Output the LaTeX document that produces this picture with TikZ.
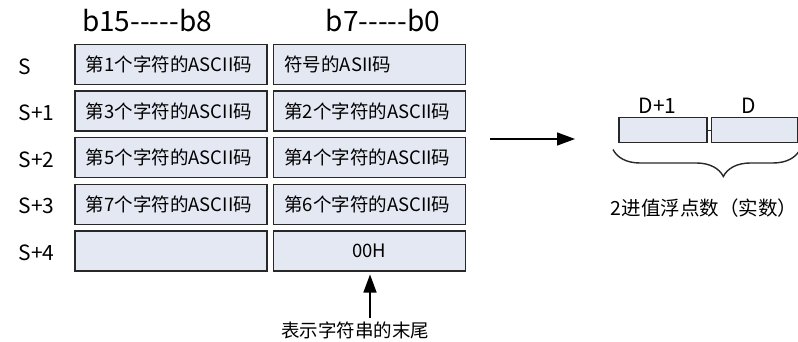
\documentclass[tikz,border=0pt]{standalone}
\usepackage{fontspec}
\setmainfont{Noto Sans CJK SC}
\usetikzlibrary{positioning,arrows.meta,decorations.pathreplacing}
\definecolor{cellfill}{RGB}{228,232,242}
\definecolor{celledge}{RGB}{40,40,40}

\begin{document}
\begin{tikzpicture}[
    x=1pt, y=-1pt,
    node distance=5pt,
    cell/.style={rectangle, draw=celledge, line width=1.5pt, fill=cellfill, minimum width=192pt, minimum height=40pt, inner xsep=11pt, text width=170pt, align=left, font=\fontsize{18.5}{20}\selectfont},
    rowlab/.style={anchor=west, font=\fontsize{21}{24}\selectfont},
    bitlab/.style={font=\fontsize{28}{32}\selectfont},
    dcell/.style={rectangle, draw=celledge, line width=1.5pt, fill=cellfill, minimum height=25pt},
    note/.style={font=\fontsize{18.5}{22}\selectfont},
    arrow/.style={line width=1.5pt, -{Triangle[length=18pt,width=13pt]}}
]
    \useasboundingbox (0,0) rectangle (798,342);

    % bit headers
    \node[bitlab] (hihead) at (147,21) {b15-{}-{}-{}-{}-b8};
    \node[bitlab] (lohead) at (383,21) {b7-{}-{}-{}-{}-b0};

    % word cells S .. S+4
    \node[cell, anchor=north west] (hi0) at (74,44) {第1个字符的ASCII码};
    \node[cell, right=of hi0] (lo0) {符号的ASII码};
    \node[cell, below=of hi0] (hi1) {第3个字符的ASCII码};
    \node[cell, right=of hi1] (lo1) {第2个字符的ASCII码};
    \node[cell, below=of hi1] (hi2) {第5个字符的ASCII码};
    \node[cell, right=of hi2] (lo2) {第4个字符的ASCII码};
    \node[cell, below=of hi2] (hi3) {第7个字符的ASCII码};
    \node[cell, right=of hi3] (lo3) {第6个字符的ASCII码};
    \node[cell, below=of hi3] (hi4) {};
    \node[cell, right=of hi4, align=center] (lo4) {00H};

    % row labels
    \node[rowlab] (s0) at ([xshift=-59pt,yshift=-2pt]hi0.west) {S};
    \node[rowlab] (s1) at ([xshift=-59pt,yshift=-2pt]hi1.west) {S+1};
    \node[rowlab] (s2) at ([xshift=-59pt,yshift=-2pt]hi2.west) {S+2};
    \node[rowlab] (s3) at ([xshift=-59pt,yshift=-2pt]hi3.west) {S+3};
    \node[rowlab] (s4) at ([xshift=-59pt,yshift=-2pt]hi4.west) {S+4};

    % end-of-string note
    \node[note] (endnote) at (355,330) {表示字符串的末尾};
    \draw[arrow, shorten >=3pt] ([xshift=15pt]endnote.north) -- ([xshift=15pt]endnote.north |- lo4.south);

    % conversion arrow
    \coordinate (convs) at (490,139);
    \coordinate (conve) at (575,139);
    \draw[arrow] (convs) -- (conve);

    % result words D+1, D
    \node[dcell, anchor=north west, minimum width=88pt] (dhi) at (618,117) {};
    \node[dcell, right=3pt of dhi, minimum width=86pt] (dlo) {};
    \draw[line width=1pt, celledge] (dhi) -- (dlo);
    \node[rowlab, anchor=center] (dhilab) at ([xshift=-5pt,yshift=11pt]dhi.north) {D+1};
    \node[rowlab, anchor=center] (dlolab) at ([xshift=-6pt,yshift=11pt]dlo.north) {D};

    \draw[line width=1.4pt, celledge, decorate, decoration={brace, mirror, amplitude=27pt, aspect=0.59}]
        ([xshift=-5pt,yshift=-6pt]dhi.south west) -- ([xshift=2pt,yshift=-6pt]dlo.south east);
    \node[note, font=\fontsize{19.5}{22}\selectfont] (floatlab) at (704,208) {2进值浮点数（实数）};
\end{tikzpicture}
\end{document}
